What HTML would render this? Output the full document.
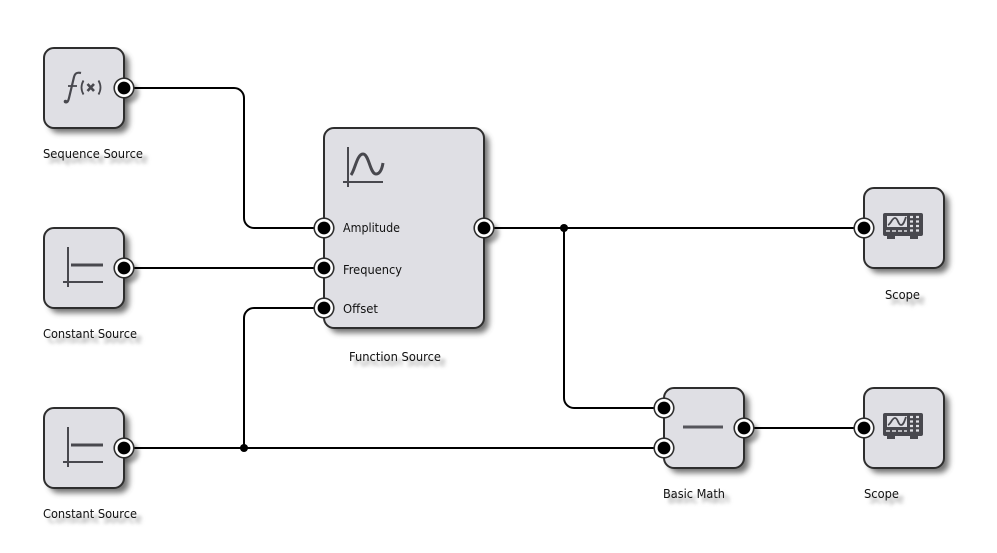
<!DOCTYPE html>
<html lang="en">
<head>
<meta charset="utf-8">
<title>Block diagram</title>
<style>
html,body{margin:0;padding:0;background:#fff;width:997px;height:553px;overflow:hidden}
svg{display:block}
text{font-family:"DejaVu Sans","Liberation Sans",sans-serif;font-size:12px;fill:#111}
.lbl-shadow text{fill:#999}
.blk{fill:#dfdfe4;stroke:#2e2e2e;stroke-width:2}
.wire{fill:none;stroke:#000;stroke-width:2}
.icon{fill:none;stroke:#48484e;stroke-width:2}
</style>
</head>
<body>
<svg width="997" height="553" viewBox="0 0 997 553" xmlns="http://www.w3.org/2000/svg">
<defs>
<filter id="bs" x="-20%" y="-20%" width="150%" height="150%"><feGaussianBlur stdDeviation="2.8"/></filter>
<filter id="ps" x="-60%" y="-60%" width="220%" height="220%"><feGaussianBlur stdDeviation="2"/></filter>
<filter id="ts" x="-10%" y="-60%" width="120%" height="250%"><feGaussianBlur stdDeviation="1.8"/></filter>
<g id="port">
<circle r="10.6" fill="#2e2e2e"/>
<circle r="9" fill="#fff"/>
<circle r="6.4" fill="#000"/>
</g>
<g id="scope">
<path fill="#48484e" fill-rule="evenodd" d="M885 -1h36a2 2 0 0 1 2 2v19a2 2 0 0 1-2 2h-3v3h-8v-3h-15v3h-8v-3h-2a2 2 0 0 1-2-2V1a2 2 0 0 1 2-2zM887 2v11h20V2z"/>
<path d="M888 11c3-1 4-7 7-7s3 7 6 7 4-6 5-8" fill="none" stroke="#48484e" stroke-width="1.8"/>
<path d="M886 17h4M892 17h4M898 17h4M904 17h3" stroke="#dfdfe4" stroke-width="1.5"/>
<path d="M910 3h3M916 3h3M910 7.500h3M916 7.500h3M910 12h3M916 12h3M910 16.500h3M916 16.500h3" stroke="#dfdfe4" stroke-width="2.200"/>
</g>
</defs>

<!-- block shadows -->
<g fill="#444" opacity=".75" filter="url(#bs)">
<rect x="49" y="53" width="80" height="80" rx="10"/>
<rect x="49" y="233" width="80" height="80" rx="10"/>
<rect x="49" y="413" width="80" height="80" rx="10"/>
<rect x="329" y="133" width="160" height="200" rx="10"/>
<rect x="869" y="193" width="80" height="80" rx="10"/>
<rect x="869" y="393" width="80" height="80" rx="10"/>
<rect x="669" y="393" width="80" height="80" rx="10"/>
</g>
<!-- port shadows on the outer edge -->
<g fill="#444" opacity=".5" filter="url(#ps)">
<circle cx="129" cy="93" r="10"/>
<circle cx="129" cy="273" r="10"/>
<circle cx="129" cy="453" r="10"/>
<circle cx="489" cy="233" r="10"/>
<circle cx="749" cy="433" r="10"/>
</g>

<!-- label shadows -->
<g class="lbl-shadow" filter="url(#ts)">
<text x="48" y="163" textLength="100" lengthAdjust="spacingAndGlyphs">Sequence Source</text>
<text x="48" y="343" textLength="94" lengthAdjust="spacingAndGlyphs">Constant Source</text>
<text x="48" y="523" textLength="94" lengthAdjust="spacingAndGlyphs">Constant Source</text>
<text x="354" y="366" textLength="92" lengthAdjust="spacingAndGlyphs">Function Source</text>
<text x="890" y="304" textLength="35" lengthAdjust="spacingAndGlyphs">Scope</text>
<text x="869" y="503" textLength="35" lengthAdjust="spacingAndGlyphs">Scope</text>
<text x="668" y="503" textLength="62" lengthAdjust="spacingAndGlyphs">Basic Math</text>
</g>

<!-- blocks -->
<rect class="blk" x="44" y="48" width="80" height="80" rx="10"/>
<rect class="blk" x="44" y="228" width="80" height="80" rx="10"/>
<rect class="blk" x="44" y="408" width="80" height="80" rx="10"/>
<rect class="blk" x="324" y="128" width="160" height="200" rx="10"/>
<rect class="blk" x="864" y="188" width="80" height="80" rx="10"/>
<rect class="blk" x="864" y="388" width="80" height="80" rx="10"/>
<rect class="blk" x="664" y="388" width="80" height="80" rx="10"/>

<!-- wires -->
<path class="wire" d="M124 88H234a10 10 0 0 1 10 10V218a10 10 0 0 0 10 10H324"/>
<path class="wire" d="M124 268H324"/>
<path class="wire" d="M124 448H664"/>
<path class="wire" d="M244 448V318a10 10 0 0 1 10-10H324"/>
<path class="wire" d="M484 228H864"/>
<path class="wire" d="M564 228V398a10 10 0 0 0 10 10H664"/>
<path class="wire" d="M744 428H864"/>
<circle cx="244" cy="448" r="4" fill="#000"/>
<circle cx="564" cy="228" r="4" fill="#000"/>

<!-- f(x) icon -->
<path d="M81 73c-4-1-6 0-7 4l-5 21c-1 4-2 5-4 4" fill="none" stroke="#48484e" stroke-width="2.200"/>
<path d="M68 86h9" stroke="#48484e" stroke-width="1.800"/>
<circle cx="65.500" cy="101.500" r="1.800" fill="#48484e"/>
<path d="M83.500 80.500q-4 7 0 14M98.500 80.500q4 7 0 14" fill="none" stroke="#48484e" stroke-width="1.800"/>
<path d="M87.500 84l6.500 7M94 84l-6.500 7" stroke="#48484e" stroke-width="2.600"/>

<!-- constant icons -->
<g class="icon">
<path d="M68 247V287M63 282H103"/>
<path d="M71 265H103" stroke-width="3"/>
<path d="M68 427V467M63 462H103"/>
<path d="M71 445H103" stroke-width="3"/>
</g>

<!-- function icon -->
<path class="icon" d="M348 147V187M343 182H383"/>
<path d="M351 175c4-5 6-21 12-21s7 20 13 20c4 0 6-5 7-11" fill="none" stroke="#48484e" stroke-width="3"/>

<!-- basic math icon -->
<path d="M683 427H723" stroke="#55555b" stroke-width="3"/>

<!-- scope icons -->
<use href="#scope" y="214"/>
<use href="#scope" y="414"/>

<!-- ports -->
<use href="#port" x="124" y="88"/>
<use href="#port" x="124" y="268"/>
<use href="#port" x="124" y="448"/>
<use href="#port" x="324" y="228"/>
<use href="#port" x="324" y="268"/>
<use href="#port" x="324" y="308"/>
<use href="#port" x="484" y="228"/>
<use href="#port" x="664" y="408"/>
<use href="#port" x="664" y="448"/>
<use href="#port" x="744" y="428"/>
<use href="#port" x="864" y="228"/>
<use href="#port" x="864" y="428"/>

<!-- labels -->
<text x="43" y="158" textLength="100" lengthAdjust="spacingAndGlyphs">Sequence Source</text>
<text x="43" y="338" textLength="94" lengthAdjust="spacingAndGlyphs">Constant Source</text>
<text x="43" y="518" textLength="94" lengthAdjust="spacingAndGlyphs">Constant Source</text>
<text x="349" y="361" textLength="92" lengthAdjust="spacingAndGlyphs">Function Source</text>
<text x="885" y="299" textLength="35" lengthAdjust="spacingAndGlyphs">Scope</text>
<text x="864" y="498" textLength="35" lengthAdjust="spacingAndGlyphs">Scope</text>
<text x="663" y="498" textLength="62" lengthAdjust="spacingAndGlyphs">Basic Math</text>
<text x="343" y="232" textLength="57" lengthAdjust="spacingAndGlyphs">Amplitude</text>
<text x="343" y="274" textLength="59" lengthAdjust="spacingAndGlyphs">Frequency</text>
<text x="343" y="313" textLength="35" lengthAdjust="spacingAndGlyphs">Offset</text>
</svg>
</body>
</html>
